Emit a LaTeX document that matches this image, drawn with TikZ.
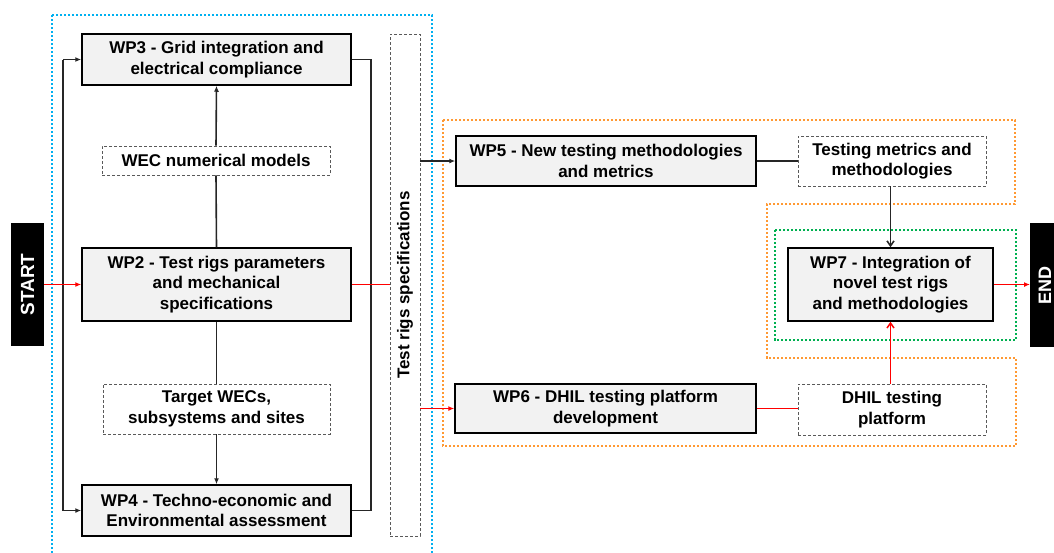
\documentclass[tikz,border=0pt]{standalone}
\usepackage{fontspec}
\setmainfont{Liberation Sans}
\usetikzlibrary{arrows.meta}
\definecolor{boxgray}{HTML}{F2F2F2}
\definecolor{dashgray}{HTML}{595959}
\definecolor{frameblue}{HTML}{00B0F0}
\definecolor{frameorange}{HTML}{FF9933}
\definecolor{framegreen}{HTML}{00B050}
\begin{document}
\begin{tikzpicture}[x=1pt,y=-1pt,
  txt/.style={font=\bfseries\fontsize{17}{20.5}\selectfont, align=center},
  wp/.style={txt, draw=black, line width=1.5pt, fill=boxgray, inner sep=0pt},
  outbox/.style={txt, draw=dashgray, line width=0.9pt, dash pattern=on 3pt off 2pt, fill=white, inner sep=0pt},
  endblock/.style={fill=black, text=white, inner sep=0pt},
  frame/.style={line width=2.3pt, dash pattern=on 2.2pt off 1.8pt},
  conn/.style={draw=black!85, line width=1.6pt},
  redconn/.style={draw=red, line width=1.5pt},
  tip/.style={-{Latex[length=6pt,width=5pt]}},
  opentip/.style={-{Straight Barb[length=5pt,width=7pt]}}
]
\useasboundingbox (0,0) rectangle (1054,552);

% group frames
\draw[frame, frameblue] (52,15) rectangle (432,570);
\draw[frame, frameorange] (443,120) -- (1015,120) -- (1015,204) -- (767,204)
  -- (767,358) -- (1016,358) -- (1016,446) -- (443,446) -- cycle;
\draw[frame, framegreen] (775,230) rectangle (1016,340);

% start / end blocks
\node[endblock, minimum width=33, minimum height=123] (start) at (27.5,284.5) {};
\node[rotate=90, text=white, font=\bfseries\fontsize{19}{22}\selectfont] at (start.center) {START};
\node[endblock, minimum width=32, minimum height=124, anchor=west] (end) at (1030,285) {};
\node[rotate=90, text=white, font=\bfseries\fontsize{18}{21}\selectfont] at (1045,285) {END};

% work packages and outputs
\node[wp, minimum width=269, minimum height=51] (wp3) at (216.5,59.5) {WP3 - Grid integration and\\electrical compliance};
\node[outbox, minimum width=228, minimum height=29] (wec) at (216,160.5) {WEC numerical models};
\node[wp, minimum width=269, minimum height=73] (wp2) at (216.5,284.5) {WP2 - Test rigs parameters\\and mechanical\\specifications};
\node[outbox, minimum width=227, minimum height=50] (target) at (216.5,409) {Target WECs,\\subsystems and sites};
\node[wp, minimum width=269, minimum height=51] (wp4) at (216.5,510.5) {WP4 - Techno-economic and\\Environmental assessment};

\node[outbox, fill=none, minimum width=30, minimum height=502] (trs) at (405,285) {};
\node[txt, rotate=90] (trslabel) at (trs.center) {Test rigs specifications};

\node[wp, minimum width=300, minimum height=50] (wp5) at (606,161) {WP5 - New testing methodologies\\and metrics};
\node[outbox, minimum width=188, minimum height=50] (metrics) at (892,161) {Testing metrics and\\methodologies};
\node[wp, minimum width=205, minimum height=73] (wp7) at (890.5,284.5) {WP7 - Integration of\\novel test rigs\\and methodologies};
\node[wp, minimum width=301, minimum height=49] (wp6) at (605.5,408.5) {WP6 - DHIL testing platform\\development};
\node[outbox, minimum width=188, minimum height=51] (dhil) at (892,409.5) {DHIL testing\\platform};

% side rails of the first block
\coordinate (lx) at (63,0);
\coordinate (rx) at (371,0);

% connectors
\draw[conn] (lx |- wp3.west) -- (lx |- wp4.west);
\draw[conn, tip] (lx |- wp3.west) -- (wp3.west);
\draw[conn, tip] (lx |- wp4.west) -- (wp4.west);
\draw[conn] (wp3.east) -- (rx |- wp3.east) -- (rx |- wp4.east) -- (wp4.east);
\draw[conn] (wp2.north) -- (wec.south);
\draw[conn, tip] (wec.north) -- (wp3.south);
\draw[conn] (wp2.south) -- (target.north);
\draw[conn, tip] (target.south) -- (wp4.north);

\draw[redconn, tip] (start.east |- wp2.west) -- (wp2.west);
\draw[redconn] (wp2.east) -- (trs.west |- wp2.east);

\draw[conn, tip] (trs.east |- wp5.west) -- (wp5.west);
\draw[redconn, tip] (trs.east |- wp6.west) -- (wp6.west);

\draw[conn] (wp5.east) -- (metrics.west);
\draw[conn, opentip] (metrics.south -| wp7.north) -- (wp7.north);
\draw[redconn] (wp6.east) -- (wp6.east -| dhil.west);
\draw[redconn, opentip] (dhil.north -| wp7.south) -- (wp7.south);
\draw[redconn, tip] (wp7.east) -- (end.west |- wp7.east);
\end{tikzpicture}
\end{document}
